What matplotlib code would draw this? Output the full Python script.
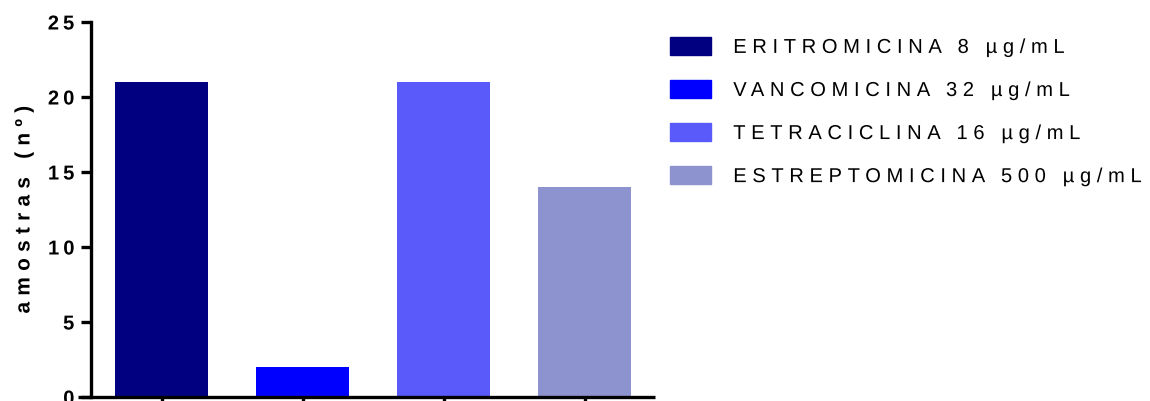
import matplotlib
matplotlib.use("Agg")
import matplotlib.pyplot as plt
from matplotlib.patheffects import AbstractPathEffect
from matplotlib.path import Path
from matplotlib.textpath import text_to_path
import numpy as np

antibioticos = ["ERITROMICINA 8 µg/mL", "VANCOMICINA 32 µg/mL",
                "TETRACICLINA 16 µg/mL", "ESTREPTOMICINA 500 µg/mL"]
amostras = [21, 2, 21, 14]
cores = ["#000080", "#0000FF", "#5A5AFA", "#8C93CF"]
yticks = [0, 5, 10, 15, 20, 25]

plt.rcParams["font.family"] = ["Liberation Sans", "DejaVu Sans"]


class Espacamento(AbstractPathEffect):
    """Adds extra tracking between the glyphs of a text drawn as a path."""

    def __init__(self, artista, espaco=0.25, alinhamento="left"):
        super().__init__()
        self.artista = artista
        self.espaco = espaco * text_to_path.FONT_SCALE  # path units per em
        self.alinhamento = alinhamento

    def _origens(self, texto):
        fonte = text_to_path._get_font(self.artista.get_fontproperties())
        info, _, _ = text_to_path.get_glyphs_with_font(fonte, texto)
        return np.array([g[1] for g in info], dtype=float)

    def draw_path(self, renderer, gc, tpath, affine, rgbFace=None):
        verts = np.array(tpath.vertices, dtype=float)
        codes = tpath.codes
        texto = self.artista.get_text()
        if codes is None or len(verts) == 0 or not texto:
            renderer.draw_path(gc, tpath, affine, rgbFace)
            return
        origens = self._origens(texto)
        inicios = np.flatnonzero(codes == Path.MOVETO)
        fins = list(inicios[1:]) + [len(verts)]
        for s, e in zip(inicios, fins):
            sel = codes[s:e] != Path.CLOSEPOLY
            xs = verts[s:e][sel, 0]
            centro = 0.5 * (xs.min() + xs.max())
            k = int(np.clip(np.searchsorted(origens, centro, side="right") - 1,
                            0, len(origens) - 1))
            verts[s:e, 0] += self.espaco * k
        total = self.espaco * max(len(origens) - 1, 0)
        desloc = {"left": 0.0, "center": -total / 2,
                  "right": -total}[self.alinhamento]
        verts[:, 0] += desloc
        renderer.draw_path(gc, Path(verts, codes), affine, rgbFace)


fig = plt.figure(figsize=(11.5, 4.01), dpi=100)
ax = fig.add_axes([91 / 1150, 4 / 401, (655 - 91) / 1150, (397 - 22) / 401])

x = np.arange(len(amostras))
ax.bar(x, amostras, width=0.665, color=cores)

ax.set_xlim(-0.5, 3.5)
ax.set_ylim(0, 25)
ax.set_yticks(yticks)
ax.set_yticklabels([str(v) for v in yticks], fontsize=14.5, fontweight="bold")
ax.set_xticks(x)
ax.set_xticklabels([])
for rotulo in ax.get_yticklabels():
    rotulo.set_path_effects([Espacamento(rotulo, 0.2, "right")])

for side in ("top", "right"):
    ax.spines[side].set_visible(False)
for side in ("left", "bottom"):
    ax.spines[side].set_linewidth(2.4)
ax.spines["bottom"].set_bounds(-0.59, 3.5)
ax.spines["bottom"].set_capstyle("butt")
ax.tick_params(axis="both", length=7.5, width=2.4, direction="out", pad=4.5)

ax.set_ylabel("amostras (nº)", fontsize=15, fontweight="bold")
ax.yaxis.set_label_coords(-0.102, 0.5)
ax.yaxis.label.set_path_effects([Espacamento(ax.yaxis.label, 0.3, "center")])

handles = [plt.Rectangle((0, 0), 1, 1, color=c) for c in cores]
leg = fig.legend(handles, antibioticos, loc="upper left",
                 bbox_to_anchor=(670 / 1150, 1 - 37 / 401), frameon=False,
                 fontsize=14.5, handlelength=2.04, handleheight=1.0,
                 handletextpad=1.1, labelspacing=1.15, borderpad=0,
                 borderaxespad=0)
for texto in leg.get_texts():
    texto.set_path_effects([Espacamento(texto, 0.28, "left")])

fig.savefig("out.png", dpi=100)
